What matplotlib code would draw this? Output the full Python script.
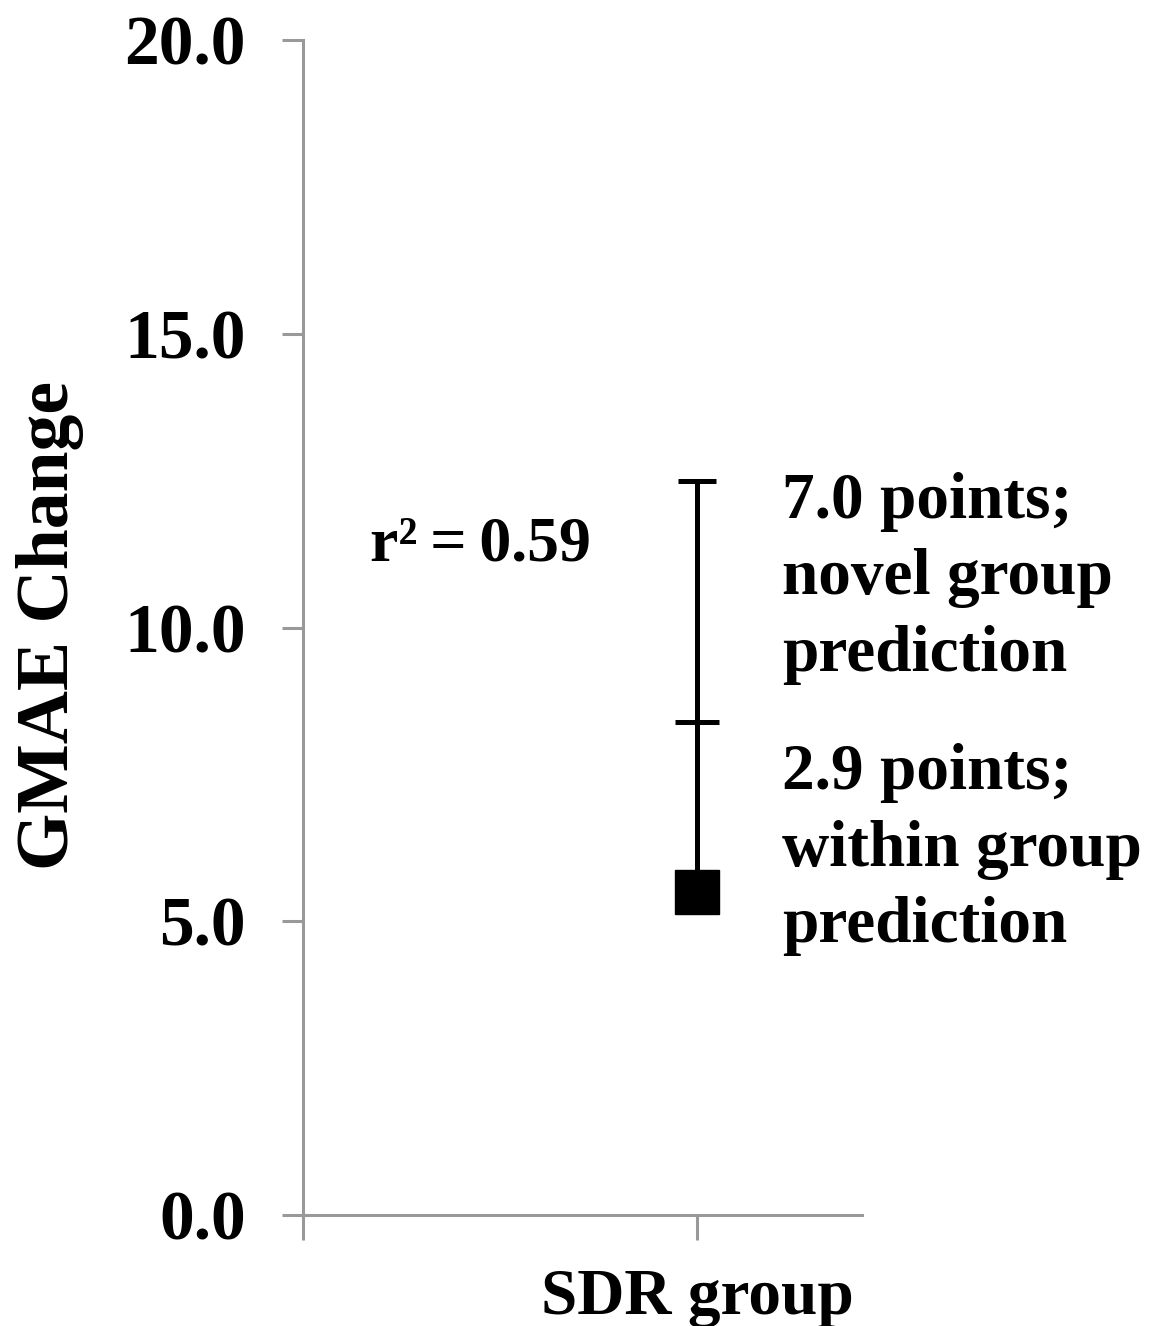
import matplotlib
matplotlib.use("Agg")
import matplotlib.pyplot as plt

# Data
categories = ["SDR group"]
baseline_value = [5.5]          # within-group mean GMAE change (square)
within_group_pts = [2.9]        # within group prediction
novel_group_pts = [7.0]         # novel group prediction
y_ticks = [0.0, 5.0, 10.0, 15.0, 20.0]
r2_label = "r²\u2009=\u20090.59"
novel_text = "7.0 points;\nnovel group\nprediction"
within_text = "2.9 points;\nwithin group\nprediction"

plt.rcParams['font.family'] = ['Liberation Serif', 'DejaVu Serif']
plt.rcParams['font.weight'] = 'bold'

fig = plt.figure(figsize=(11.56, 13.26), dpi=100)
ax = fig.add_axes([0.262, 0.0837, 0.484, 0.886])

xpos = [1]
spine_c = '#999999'

# error bar (upper only, to novel group prediction)
ax.errorbar(xpos, baseline_value, yerr=[[0], novel_group_pts], fmt='none',
            ecolor='black', elinewidth=3.6, capsize=14, capthick=3.6, zorder=3)
# within-group tick
mid = [b + w for b, w in zip(baseline_value, within_group_pts)]
ax.plot(xpos, mid, marker='_', markersize=31, markeredgewidth=3.6,
        color='black', linestyle='none', zorder=3)
# square marker
ax.plot(xpos, baseline_value, marker='s', markersize=32, color='black',
        linestyle='none', zorder=4)

ax.set_xlim(0, 1.419)
ax.set_ylim(0, 20)
ax.set_yticks(y_ticks)
ax.set_yticklabels([f"{v:.1f}" for v in y_ticks])
ax.set_xticks([0] + xpos)
ax.set_xticklabels([""] + categories)

for s in ['top', 'right']:
    ax.spines[s].set_visible(False)
for s in ['left', 'bottom']:
    ax.spines[s].set_color(spine_c)
    ax.spines[s].set_linewidth(2.2)

ax.tick_params(axis='y', direction='out', length=15, width=2.2, color=spine_c,
               pad=26, labelsize=50)
ax.tick_params(axis='x', direction='out', length=18, width=2.2, color=spine_c,
               pad=20, labelsize=47)
for lab in ax.get_xticklabels() + ax.get_yticklabels():
    lab.set_fontweight('bold')

fig.text(50 / 1156, 1 - 625 / 1326, "GMAE Change", rotation=90, ha='center',
         va='center', fontsize=53, fontweight='bold')

ax.text(0.17, 11.4, r2_label, ha='left', va='center', fontsize=46,
        fontweight='bold')
ax.text(1.216, 12.65, novel_text, ha='left', va='top', fontsize=47,
        fontweight='bold', linespacing=1.36, clip_on=False)
ax.text(1.216, 8.03, within_text, ha='left', va='top', fontsize=47,
        fontweight='bold', linespacing=1.36, clip_on=False)

fig.savefig("out.png", dpi=100)
